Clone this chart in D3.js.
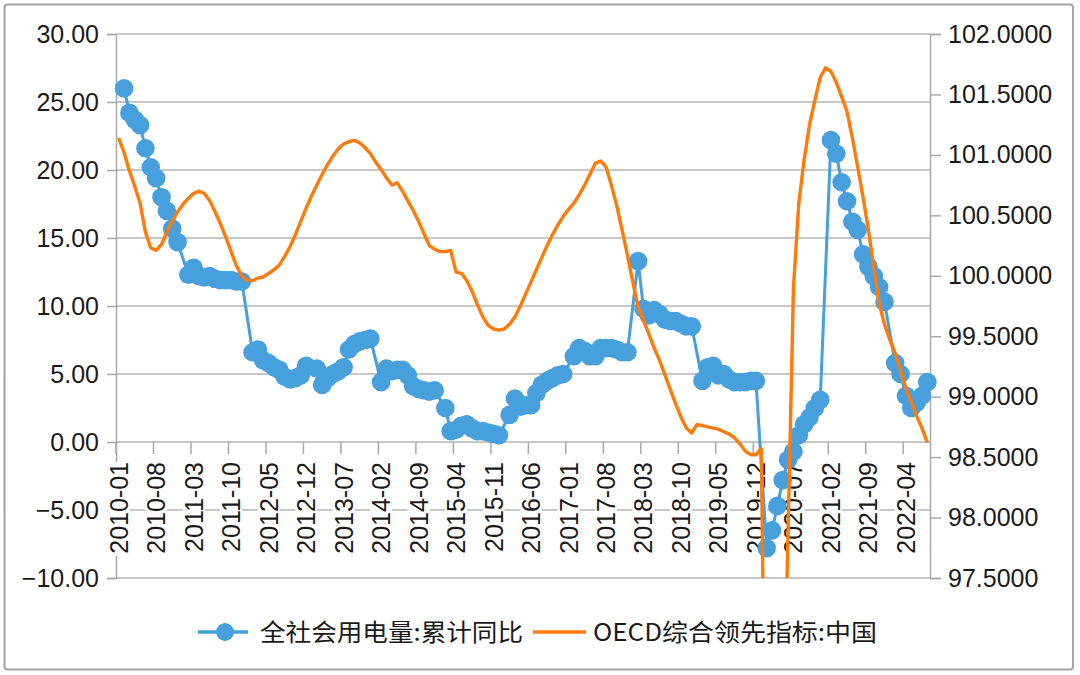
<!DOCTYPE html>
<html><head><meta charset="utf-8">
<script src="https://cdn.jsdelivr.net/npm/d3@7"></script>
<style>
html,body{margin:0;padding:0;background:#fff;}
svg{display:block;}
text{font-family:"Liberation Sans",Arial,Helvetica,sans-serif;fill:#1a1a1a;}
</style></head>
<body>
<svg id="chart" width="1080" height="675"></svg>
<script>
// ---- data ----
const startYear = 2010, endYear = 2022, endMonth = 8;
const tickLabels = ["2010-01","2010-08","2011-03","2011-10","2012-05","2012-12","2013-07","2014-02","2014-09","2015-04","2015-11","2016-06","2017-01","2017-08","2018-03","2018-10","2019-05","2019-12","2020-07","2021-02","2021-09","2022-04"];
const leftTicks = [-10,-5,0,5,10,15,20,25,30];
const rightTicks = [97.5,98,98.5,99,99.5,100,100.5,101,101.5,102];
const seriesNames = ["全社会用电量:累计同比","OECD综合领先指标:中国"];

// 全社会用电量:累计同比 (Jan..Dec per year; January not published)
const elec2010 = [null,26.0,24.2,23.7,23.3,21.6,20.2,19.4,18.0,17.0,15.7,14.7];
const elec2011 = [null,12.3,12.8,12.2,12.1,12.2,12.0,11.9,11.9,11.9,11.8,11.8];
const elec2012 = [null,6.6,6.8,6.0,5.8,5.5,5.3,4.8,4.6,4.7,4.9,5.6];
const elec2013 = [null,5.4,4.2,4.7,5.0,5.2,5.5,6.8,7.2,7.4,7.5,7.6];
const elec2014 = [null,4.4,5.4,5.2,5.3,5.3,4.9,4.1,3.9,3.8,3.7,3.8];
const elec2015 = [null,2.5,0.8,0.9,1.2,1.3,1.0,0.8,0.8,0.7,0.6,0.5];
const elec2016 = [null,2.0,3.2,2.6,2.7,2.7,3.6,4.2,4.5,4.7,4.9,5.0];
const elec2017 = [null,6.3,6.9,6.7,6.3,6.3,6.9,6.9,6.9,6.8,6.6,6.6];
const elec2018 = [null,13.3,9.8,9.3,9.7,9.4,9.0,8.9,8.9,8.7,8.5,8.5];
const elec2019 = [null,4.5,5.5,5.6,4.9,5.0,4.6,4.4,4.4,4.4,4.5,4.5];
const elec2020 = [null,-7.8,-6.5,-4.7,-2.8,-1.3,-0.7,0.5,1.3,1.8,2.5,3.1];
const elec2021 = [null,22.2,21.2,19.1,17.7,16.2,15.6,13.8,12.9,12.2,11.4,10.3];
const elec2022 = [null,5.8,5.0,3.4,2.5,2.9,3.4,4.4];

// OECD综合领先指标:中国 (Jan..Dec per year)
const cli2010 = [101.14,101.02,100.87,100.74,100.60,100.36,100.23,100.21,100.26,100.36,100.45,100.53];
const cli2011 = [100.59,100.64,100.68,100.70,100.68,100.62,100.53,100.43,100.32,100.20,100.08,100.00];
const cli2012 = [99.96,99.96,99.98,99.99,100.02,100.05,100.09,100.16,100.24,100.34,100.45,100.56];
const cli2013 = [100.66,100.75,100.84,100.92,100.99,101.05,101.09,101.11,101.12,101.10,101.06,101.01];
const cli2014 = [100.94,100.88,100.81,100.75,100.77,100.70,100.62,100.54,100.45,100.35,100.25,100.22];
const cli2015 = [100.20,100.20,100.21,100.03,100.02,99.96,99.87,99.76,99.66,99.59,99.56,99.55];
const cli2016 = [99.56,99.60,99.66,99.75,99.85,99.95,100.05,100.15,100.25,100.34,100.42,100.49];
const cli2017 = [100.55,100.60,100.67,100.75,100.84,100.93,100.95,100.90,100.75,100.58,100.38,100.17];
const cli2018 = [99.95,99.74,99.63,99.52,99.40,99.30,99.18,99.06,98.94,98.83,98.74,98.70];
const cli2019 = [98.77,98.76,98.75,98.74,98.73,98.71,98.69,98.66,98.61,98.55,98.52,98.52];
const cli2020 = [98.57,94.8,93.5,94.5,95.8,97.9,99.9,100.6,100.96,101.25,101.45,101.64];
const cli2021 = [101.72,101.69,101.60,101.48,101.36,101.14,100.90,100.65,100.38,100.07,99.77,99.60];
const cli2022 = [99.47,99.36,99.22,99.07,98.96,98.84,98.74,98.62];

const elecValues = [].concat(elec2010,elec2011,elec2012,elec2013,elec2014,elec2015,elec2016,elec2017,elec2018,elec2019,elec2020,elec2021,elec2022);
const cliValues = [].concat(cli2010,cli2011,cli2012,cli2013,cli2014,cli2015,cli2016,cli2017,cli2018,cli2019,cli2020,cli2021,cli2022);

const categories = [];
for (let y = startYear; y <= endYear; y++) {
  const last = y === endYear ? endMonth : 12;
  for (let m = 1; m <= last; m++) categories.push(y + "-" + String(m).padStart(2, "0"));
}

// ---- layout ----
const W = 1080, H = 675;
const plot = {left: 116, right: 930, top: 34, bottom: 578};
const BLUE = "#479fdc", ORANGE = "#ff7a0a", GRID = "#b4b4b4", AXIS = "#a8a8a8";

const svg = d3.select("#chart");

svg.append("rect").attr("x", 4.5).attr("y", 4.5).attr("width", 1068.5).attr("height", 665)
  .attr("rx", 3).attr("fill", "#fff").attr("stroke", "#a3a3a3").attr("stroke-width", 2);

const x = d3.scaleBand().domain(categories).range([plot.left, plot.right]).padding(0);
const bw = x.bandwidth();
const cx = c => x(c) + bw / 2;
const yL = d3.scaleLinear().domain([-10, 30]).range([plot.bottom, plot.top]);
const yR = d3.scaleLinear().domain([97.5, 102]).range([plot.bottom, plot.top]);

// gridlines
svg.append("g").selectAll("line").data(leftTicks).join("line")
  .attr("x1", plot.left).attr("x2", plot.right)
  .attr("y1", d => yL(d)).attr("y2", d => yL(d))
  .attr("stroke", GRID).attr("stroke-width", 1.5);

// left axis
const gL = svg.append("g").attr("transform", `translate(${plot.left},0)`)
  .call(d3.axisLeft(yL).tickValues(leftTicks).tickFormat(d3.format(".2f")).tickSize(9).tickPadding(8));
gL.select(".domain").attr("stroke", AXIS).attr("stroke-width", 1.5);
gL.selectAll(".tick line").attr("stroke", AXIS).attr("stroke-width", 1.5);
gL.selectAll(".tick text").attr("font-size", 25).attr("fill", "#1a1a1a")
  .style("font-family", '"Liberation Sans",Arial,sans-serif');

// right axis
const gR = svg.append("g").attr("transform", `translate(${plot.right},0)`)
  .call(d3.axisRight(yR).tickValues(rightTicks).tickFormat(d3.format(".4f")).tickSize(11).tickPadding(7));
gR.select(".domain").attr("stroke", AXIS).attr("stroke-width", 1.5);
gR.selectAll(".tick line").attr("stroke", AXIS).attr("stroke-width", 1.5);
gR.selectAll(".tick text").attr("font-size", 25).attr("fill", "#1a1a1a")
  .style("font-family", '"Liberation Sans",Arial,sans-serif');

// x ticks (at category start) and labels (at category center)
const y0 = yL(0);
const gx = svg.append("g");
gx.selectAll("line").data(tickLabels).join("line")
  .attr("x1", d => x(d)).attr("x2", d => x(d))
  .attr("y1", y0).attr("y2", y0 + 12)
  .attr("stroke", AXIS).attr("stroke-width", 1.5);
const lab = gx.selectAll("g.lab").data(tickLabels).join("g").attr("class", "lab")
  .attr("transform", d => `translate(${cx(d)},${y0 + 20}) rotate(-90)`);
lab.append("rect").attr("x", -94).attr("y", -11).attr("width", 94).attr("height", 22).attr("fill", "#fff");
lab.append("text").attr("text-anchor", "end").attr("dy", "0.36em")
  .attr("font-size", 25).text(d => d);

// clip for plot
svg.append("defs").append("clipPath").attr("id", "clip")
  .append("rect").attr("x", plot.left).attr("y", plot.top)
  .attr("width", plot.right - plot.left).attr("height", plot.bottom - plot.top);

// blue series
const elecPts = categories.map((c, i) => ({c, v: elecValues[i]})).filter(d => d.v !== null && d.v !== undefined);
const lineL = d3.line().x(d => cx(d.c)).y(d => yL(d.v));
svg.append("path").datum(elecPts).attr("d", lineL)
  .attr("fill", "none").attr("stroke", BLUE).attr("stroke-width", 3).attr("stroke-linejoin", "round");
svg.append("g").selectAll("circle").data(elecPts).join("circle")
  .attr("cx", d => cx(d.c)).attr("cy", d => yL(d.v)).attr("r", 9.3).attr("fill", BLUE);

// orange series
const cliPts = categories.map((c, i) => ({c, v: cliValues[i]}));
const lineR = d3.line().x(d => cx(d.c)).y(d => yR(d.v));
svg.append("path").datum(cliPts).attr("d", lineR).attr("clip-path", "url(#clip)")
  .attr("fill", "none").attr("stroke", ORANGE).attr("stroke-width", 3.4).attr("stroke-linejoin", "round");

// legend
const lg = svg.append("g");
const ly = 632;
lg.append("line").attr("x1", 198).attr("x2", 248).attr("y1", ly).attr("y2", ly)
  .attr("stroke", BLUE).attr("stroke-width", 3.5);
lg.append("circle").attr("cx", 225).attr("cy", ly).attr("r", 9).attr("fill", BLUE);
lg.append("text").attr("x", 260).attr("y", ly).attr("dy", "0.36em").attr("font-size", 24)
  .attr("textLength", 263).attr("lengthAdjust", "spacingAndGlyphs")
  .style("font-family", '"Noto Sans CJK SC","Liberation Sans",sans-serif').text(seriesNames[0]);
lg.append("line").attr("x1", 533).attr("x2", 586).attr("y1", ly).attr("y2", ly)
  .attr("stroke", ORANGE).attr("stroke-width", 3.5);
lg.append("text").attr("x", 593).attr("y", ly).attr("dy", "0.36em").attr("font-size", 24)
  .attr("textLength", 284).attr("lengthAdjust", "spacingAndGlyphs")
  .style("font-family", '"Noto Sans CJK SC","Liberation Sans",sans-serif').text(seriesNames[1]);
</script>
</body></html>
